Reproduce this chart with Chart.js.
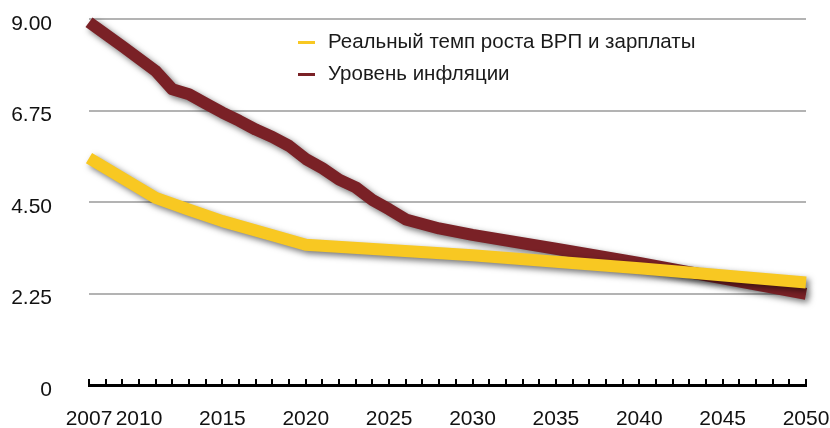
<!DOCTYPE html>
<html>
<head>
<meta charset="utf-8">
<script src="https://cdn.jsdelivr.net/npm/chart.js@4.4.1/dist/chart.umd.min.js"></script>
<style>
  body { margin: 0; background: #fff; }
  #wrap { position: relative; width: 830px; height: 428px; }
  #legend { position: absolute; left: 298px; top: 25px; font-family: "Liberation Sans", Arial, sans-serif; font-size: 20.5px; color: #1a1a1a; }
  #legend .row { height: 32px; line-height: 32px; white-space: nowrap; }
  #legend .mark { display: inline-block; width: 17px; height: 3px; vertical-align: middle; margin-right: 13px; }
</style>
</head>
<body>
<div id="wrap">
  <canvas id="chart"></canvas>
  <div id="legend"></div>
</div>
<script>
const seriesNames = ["Реальный темп роста ВРП и зарплаты", "Уровень инфляции"];
const seriesColors = ["#f8c822", "#7a2126"];

const gdpYears = [2007, 2011, 2013, 2015, 2018, 2020, 2030, 2040, 2050];
const gdpValues = [5.58, 4.6, 4.31, 4.03, 3.68, 3.45, 3.19, 2.87, 2.52];

const inflYears = [2007, 2009, 2011, 2012, 2013, 2014, 2015, 2016, 2017, 2018, 2019, 2020, 2021, 2022, 2023, 2024, 2025, 2026, 2028, 2030, 2035, 2040, 2045, 2050];
const inflValues = [8.92, 8.33, 7.72, 7.27, 7.15, 6.92, 6.7, 6.5, 6.28, 6.1, 5.88, 5.56, 5.33, 5.05, 4.86, 4.55, 4.32, 4.07, 3.85, 3.69, 3.35, 3.0, 2.62, 2.24];

const xLabels = [2007, 2010, 2015, 2020, 2025, 2030, 2035, 2040, 2045, 2050];
const yTicks = [0, 2.25, 4.5, 6.75, 9];

const toPoints = (xs, ys) => xs.map((x, i) => ({ x: x, y: ys[i] }));

Chart.defaults.font.family = '"Liberation Sans", Arial, sans-serif';
Chart.defaults.font.size = 21;
Chart.defaults.color = "#111";

// drop shadow under each line
const shadow = {
  id: "shadow",
  beforeDatasetDraw(chart) {
    const c = chart.ctx;
    c.save();
    c.shadowColor = "rgba(0,0,0,0.55)";
    c.shadowBlur = 6;
    c.shadowOffsetX = 3;
    c.shadowOffsetY = 3;
  },
  afterDatasetDraw(chart) {
    chart.ctx.restore();
  }
};

const chart = new Chart(document.getElementById("chart"), {
  type: "line",
  data: {
    datasets: [
      {
        label: seriesNames[0],
        data: toPoints(gdpYears, gdpValues),
        borderColor: seriesColors[0],
        backgroundColor: seriesColors[0],
        borderWidth: 12,
        pointRadius: 0,
        borderJoinStyle: "round",
        clip: false
      },
      {
        label: seriesNames[1],
        data: toPoints(inflYears, inflValues),
        borderColor: seriesColors[1],
        backgroundColor: seriesColors[1],
        borderWidth: 12,
        pointRadius: 0,
        borderJoinStyle: "round",
        clip: false
      }
    ]
  },
  options: {
    responsive: true,
    maintainAspectRatio: false,
    animation: false,
    layout: { padding: { top: 19, right: 24, left: 0, bottom: 0 } },
    plugins: { legend: { display: false }, tooltip: { enabled: false } },
    scales: {
      x: {
        type: "linear",
        min: 2007,
        max: 2050,
        afterFit: (s) => { s.height = 43; s.paddingLeft = 0; s.paddingRight = 0; },
        grid: { drawOnChartArea: false, color: "#000", lineWidth: 2, tickLength: -6 },
        border: { display: true, color: "#000", width: 3 },
        ticks: {
          stepSize: 1,
          autoSkip: false,
          maxRotation: 0,
          padding: 28,
          callback: (v) => (xLabels.includes(v) ? String(v) : "")
        }
      },
      y: {
        min: 0,
        max: 9,
        afterFit: (s) => { s.width = 89; s.paddingTop = 0; s.paddingBottom = 0; },
        afterBuildTicks: (s) => { s.ticks = yTicks.map((v) => ({ value: v })); },
        grid: {
          drawTicks: false,
          lineWidth: 2,
          color: (ctx) => (ctx.tick && ctx.tick.value === 0 ? "rgba(0,0,0,0)" : "#b3b3b3")
        },
        border: { display: false },
        ticks: {
          padding: 37,
          labelOffset: 5,
          callback: (v) => (v === 0 ? "0" : v.toFixed(2))
        }
      }
    }
  },
  plugins: [shadow]
});

document.getElementById("legend").innerHTML = chart.data.datasets
  .map((d) => '<div class="row"><span class="mark" style="background:' + d.borderColor + '"></span>' + d.label + "</div>")
  .join("");
</script>
</body>
</html>
